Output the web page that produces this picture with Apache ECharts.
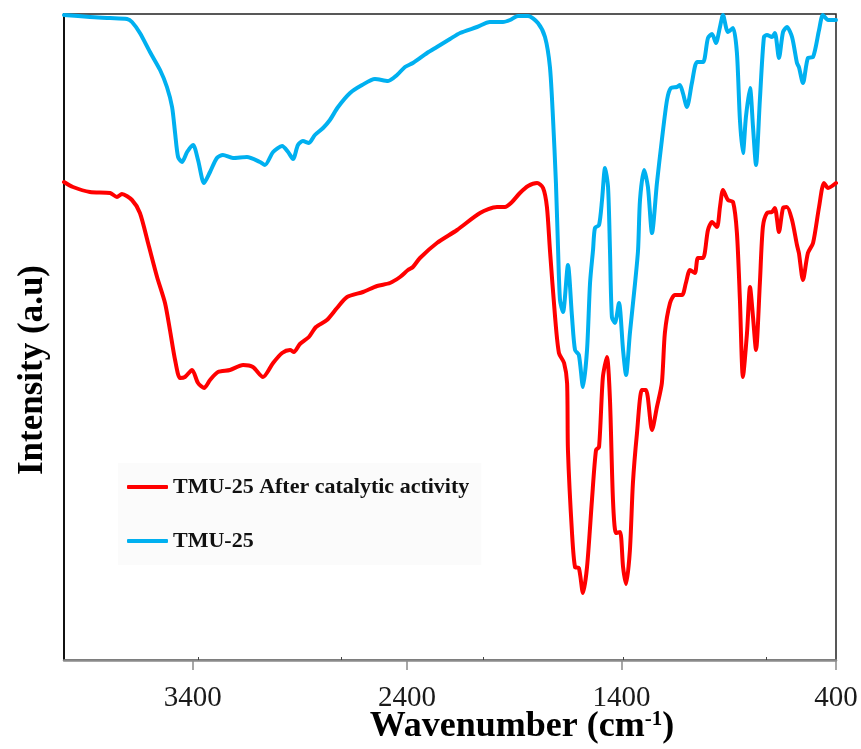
<!DOCTYPE html>
<html>
<head>
<meta charset="utf-8">
<script src="https://cdn.jsdelivr.net/npm/echarts@6/dist/echarts.min.js"></script>
<style>
html, body {margin: 0; padding: 0; background: #fff;}
#chart {width: 861px; height: 749px;}
</style>
</head>
<body>
<div id="chart"></div>
<script>
// FTIR spectra, wavenumber (cm-1) vs intensity (a.u)
let blueName = 'TMU-25';
let redName = 'TMU-25 After catalytic activity';

let blueWn = [4000,3879,3785,3706,3683,3646,3599,3552,3520,3496,3482,3468,3450,3426,3398,3375,3347,3319,3287,3259,
    3212,3147,3086,3063,3025,2983,2955,2932,2909,2886,2858,2830,2792,2760,2722,2666,2610,2550,2489,2447,
    2410,2373,2307,2261,2200,2153,2074,2014,1953,1920,1883,1836,1790,1757,1734,1720,1706,1696,1687,1673,
    1650,1631,1617,1599,1580,1561,1547,1533,1524,1505,1491,1477,1463,1454,1445,1431,1412,1393,1379,1361,
    1337,1323,1314,1295,1277,1258,1235,1212,1188,1170,1142,1128,1114,1095,1072,1048,1020,997,978,960,
    941,927,904,880,862,848,834,820,801,787,773,755,736,722,699,685,666,647,629,605,
    582,573,554,531,507,479,461,437,400];
let blueVal = [645,643,642,641,638,627,608,590,573,553,527,503,498,508,515,500,477,488,502,505,
    502,503,498,495,508,514,508,501,515,519,517,525,532,540,553,567,575,581,579,585,
    593,597,607,613,621,627,633,638,638,640,644,644,637,623,593,543,477,410,360,348,
    395,343,310,305,273,310,377,410,432,435,460,492,473,410,343,337,357,310,285,327,
    377,410,460,490,473,427,477,520,560,572,573,575,567,553,577,598,598,622,626,617,
    633,645,628,632,607,540,507,543,572,533,495,560,623,625,623,627,602,628,633,623,
    597,593,577,602,603,630,645,640,640];

let redWn = [4000,3958,3879,3785,3753,3730,3683,3646,3608,3566,3529,3506,3482,3459,3436,3403,3375,3347,3319,3282,
    3226,3165,3119,3072,3025,2983,2946,2928,2900,2858,2825,2774,2727,2680,2606,2540,2480,2433,2396,2373,
    2340,2261,2167,2060,1981,1944,1911,1874,1836,1794,1766,1748,1734,1710,1692,1668,1654,1650,1631,1617,
    1599,1580,1561,1538,1519,1505,1487,1468,1454,1440,1426,1407,1393,1379,1361,1347,1328,1305,1286,1258,
    1235,1212,1198,1174,1151,1118,1100,1081,1058,1044,1020,997,978,955,941,927,904,880,862,848,
    834,815,801,787,773,755,741,722,699,685,666,647,629,605,582,573,554,531,507,479,
    456,437,400];
let redVal = [478,473,468,467,463,466,460,447,417,383,357,330,300,282,283,290,277,272,280,288,
    290,295,293,283,297,307,310,308,316,323,333,340,352,363,368,374,377,383,390,393,
    402,417,430,447,453,453,458,467,474,477,472,453,410,343,307,297,277,210,127,93,
    92,67,93,160,210,213,283,303,260,160,127,128,93,76,110,177,227,270,270,230,
    253,277,327,357,365,365,377,390,387,402,402,430,438,433,453,470,460,458,427,360,
    283,327,373,343,310,377,433,447,448,452,428,452,453,440,415,407,380,407,417,453,
    477,472,477];

let xTicks = [3400, 2400, 1400, 400];
let topTicks = [3375, 2708, 2046, 1393, 727];

let serif = '"Liberation Serif", "Times New Roman", serif';

function pairs(xs, ys){
    return xs.map((x, i) => [x, ys[i]]);
}

let chart = echarts.init(document.getElementById('chart'), null, {renderer: 'canvas'});

let option = {
    animation: false,
    backgroundColor: '#fff',
    grid: {left: 64, right: 25, top: 14, bottom: 89, show: true, borderColor: '#222', borderWidth: 1.5},
    legend: {
        orient: 'vertical',
        left: 118,
        top: 463,
        padding: [13, 12, 13, 9],
        backgroundColor: '#fbfbfb',
        itemWidth: 41,
        itemHeight: 4,
        itemGap: 32,
        icon: 'roundRect',
        textStyle: {fontFamily: serif, fontWeight: 'bold', fontSize: 22, color: '#111'},
        data: [redName, blueName]
    },
    xAxis: [{
        type: 'value',
        min: 400,
        max: 4000,
        inverse: true,
        axisLine: {show: true, onZero: false, lineStyle: {color: '#8a8a8a', width: 2.5}},
        axisTick: {show: true, length: 10, customValues: xTicks, lineStyle: {color: '#8a8a8a', width: 1.5}},
        axisLabel: {
            customValues: xTicks,
            margin: 24,
            color: '#1a1a1a',
            fontSize: 29,
            fontFamily: serif,
            formatter: (v) => String(v)
        },
        splitLine: {show: false}
    }, {
        type: 'value',
        position: 'top',
        min: 400,
        max: 4000,
        inverse: true,
        axisLine: {show: false},
        axisTick: {show: true, length: 3, customValues: topTicks, lineStyle: {color: '#444'}},
        axisLabel: {show: false},
        splitLine: {show: false}
    }],
    yAxis: {
        type: 'value',
        min: 0,
        max: 646,
        axisLine: {show: true, onZero: false, lineStyle: {color: '#111', width: 2}},
        axisTick: {show: false},
        axisLabel: {show: false},
        splitLine: {show: false}
    },
    graphic: [{
        type: 'text',
        x: 33,
        y: 370,
        rotation: Math.PI / 2,
        style: {
            text: 'Intensity (a.u)',
            fontFamily: serif, fontWeight: 'bold', fontSize: 35,
            fill: '#000', align: 'center', verticalAlign: 'middle'
        }
    }, {
        type: 'text',
        x: 522,
        y: 727,
        style: {
            text: '{a|Wavenumber (cm}{s|-1}{a|)}',
            align: 'center', verticalAlign: 'middle',
            rich: {
                a: {fontFamily: serif, fontWeight: 'bold', fontSize: 36, fill: '#000', verticalAlign: 'bottom'},
                s: {fontFamily: serif, fontWeight: 'bold', fontSize: 21, fill: '#000', verticalAlign: 'top'}
            }
        }
    }],
    series: [{
        name: redName,
        type: 'line',
        data: pairs(redWn, redVal),
        smooth: 0.25,
        symbol: 'none',
        color: '#ff0000',
        lineStyle: {width: 4, color: '#ff0000', cap: 'round', join: 'round'}
    }, {
        name: blueName,
        type: 'line',
        data: pairs(blueWn, blueVal),
        smooth: 0.25,
        symbol: 'none',
        color: '#00b0f0',
        lineStyle: {width: 4, color: '#00b0f0', cap: 'round', join: 'round'}
    }]
};

chart.setOption(option);
</script>
</body>
</html>
